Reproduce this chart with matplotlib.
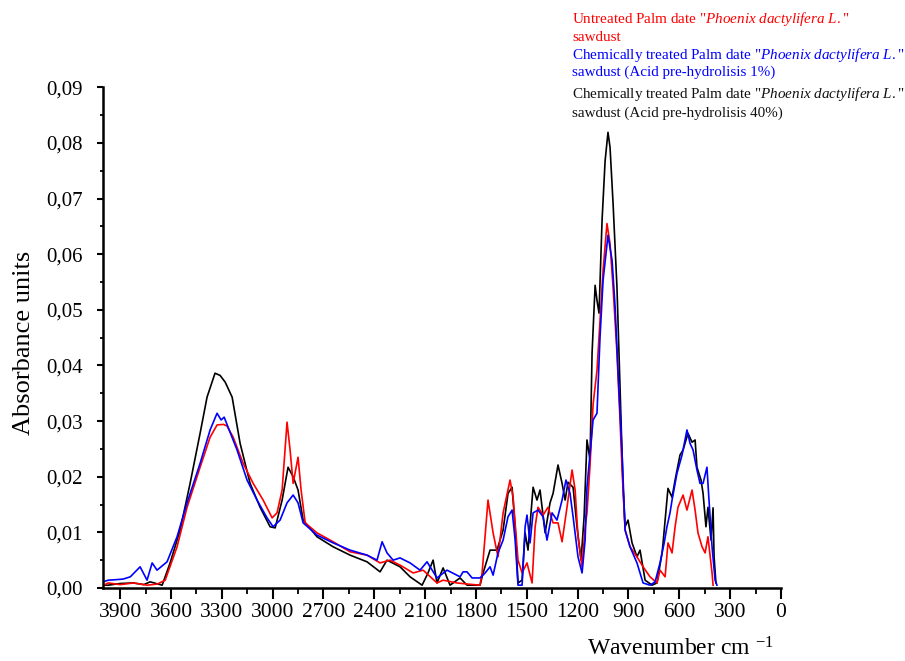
import numpy as np
import matplotlib
matplotlib.use('Agg')
import matplotlib.pyplot as plt
from matplotlib.ticker import MultipleLocator, FuncFormatter

plt.rcParams['font.family'] = ['Liberation Serif', 'DejaVu Serif']
plt.rcParams['mathtext.fontset'] = 'custom'
plt.rcParams['mathtext.rm'] = 'Liberation Serif'
plt.rcParams['mathtext.it'] = 'Liberation Serif:italic'

# (wavenumber, absorbance)
untreated = np.array([
    (3990, 0.0006), (3970, 0.0009), (3900, 0.0006), (3820, 0.0009), (3740, 0.0005),
    (3680, 0.0007), (3634, 0.0014), (3564, 0.0074), (3505, 0.0145), (3428, 0.0217),
    (3369, 0.0271), (3328, 0.0293), (3290, 0.0294), (3269, 0.0291), (3233, 0.0271),
    (3174, 0.0224), (3115, 0.0188), (3056, 0.0158), (3003, 0.0126), (2974, 0.0135),
    (2944, 0.0176), (2915, 0.0298), (2897, 0.0248), (2879, 0.0188), (2850, 0.0235),
    (2832, 0.0176), (2808, 0.0117), (2738, 0.0099), (2643, 0.0083), (2543, 0.0065),
    (2443, 0.0059), (2366, 0.0045), (2307, 0.0050), (2248, 0.0041), (2171, 0.0027),
    (2112, 0.0032), (2030, 0.0009), (1994, 0.0014), (1912, 0.0009), (1850, 0.0007),
    (1776, 0.0005), (1764, 0.0027), (1729, 0.0158), (1699, 0.0099), (1670, 0.0056),
    (1640, 0.0135), (1599, 0.0194), (1581, 0.0163), (1552, 0.0050), (1528, 0.0027),
    (1499, 0.0045), (1469, 0.0009), (1451, 0.0110), (1434, 0.0145), (1404, 0.0131),
    (1375, 0.0145), (1345, 0.0117), (1316, 0.0117), (1292, 0.0083), (1263, 0.0145),
    (1233, 0.0212), (1215, 0.0176), (1198, 0.0092), (1174, 0.0038), (1156, 0.0110),
    (1145, 0.0135), (1127, 0.0220), (1109, 0.0330), (1086, 0.0391), (1068, 0.0481),
    (1050, 0.0571), (1027, 0.0655), (1009, 0.0619), (991, 0.0540), (968, 0.0422),
    (950, 0.0302), (938, 0.0212), (920, 0.0104), (891, 0.0074), (850, 0.0056),
    (814, 0.0038), (773, 0.0020), (732, 0.0009), (714, 0.0032), (684, 0.0020),
    (667, 0.0081), (643, 0.0063), (625, 0.0110), (608, 0.0145), (578, 0.0167),
    (555, 0.0140), (525, 0.0176), (507, 0.0140), (490, 0.0099), (466, 0.0074),
    (448, 0.0063), (431, 0.0092), (407, 0.0027), (401, 0.0005),
])

acid_1 = np.array([
    (3990, 0.0012), (3970, 0.0014), (3920, 0.0015), (3882, 0.0016), (3840, 0.0020),
    (3782, 0.0038), (3741, 0.0014), (3711, 0.0045), (3682, 0.0032), (3623, 0.0047),
    (3564, 0.0092), (3505, 0.0153), (3428, 0.0224), (3369, 0.0284), (3328, 0.0314),
    (3304, 0.0302), (3286, 0.0307), (3263, 0.0289), (3210, 0.0248), (3151, 0.0194),
    (3092, 0.0158), (3033, 0.0126), (2997, 0.0110), (2956, 0.0122), (2915, 0.0153),
    (2879, 0.0167), (2850, 0.0153), (2820, 0.0117), (2738, 0.0095), (2643, 0.0081),
    (2543, 0.0068), (2443, 0.0059), (2384, 0.0050), (2354, 0.0083), (2325, 0.0063),
    (2289, 0.0050), (2248, 0.0054), (2189, 0.0045), (2130, 0.0032), (2089, 0.0047),
    (2030, 0.0018), (1971, 0.0032), (1894, 0.0020), (1876, 0.0029), (1853, 0.0029),
    (1823, 0.0018), (1776, 0.0018), (1746, 0.0027), (1717, 0.0038), (1699, 0.0023),
    (1670, 0.0063), (1640, 0.0086), (1611, 0.0128), (1587, 0.0140), (1569, 0.0086),
    (1552, 0.0005), (1528, 0.0005), (1510, 0.0110), (1499, 0.0131), (1481, 0.0081),
    (1463, 0.0135), (1434, 0.0140), (1404, 0.0128), (1381, 0.0086), (1351, 0.0135),
    (1322, 0.0122), (1292, 0.0158), (1269, 0.0194), (1245, 0.0170), (1227, 0.0128),
    (1198, 0.0056), (1174, 0.0027), (1156, 0.0086), (1145, 0.0181), (1109, 0.0302),
    (1086, 0.0314), (1068, 0.0451), (1050, 0.0553), (1021, 0.0634), (997, 0.0589),
    (979, 0.0505), (962, 0.0391), (938, 0.0242), (920, 0.0104), (891, 0.0074),
    (850, 0.0045), (814, 0.0009), (773, 0.0005), (743, 0.0011), (714, 0.0045),
    (690, 0.0080), (673, 0.0110), (655, 0.0135), (643, 0.0158), (614, 0.0206),
    (584, 0.0239), (555, 0.0284), (537, 0.0260), (519, 0.0248), (496, 0.0212),
    (478, 0.0188), (460, 0.0188), (437, 0.0217), (425, 0.0158), (407, 0.0074),
    (389, 0.0014), (378, 0.0005),
])

acid_40 = np.array([
    (3990, 0.0005), (3970, 0.0005), (3900, 0.0008), (3823, 0.0009), (3760, 0.0006),
    (3723, 0.0011), (3652, 0.0005), (3605, 0.0045), (3546, 0.0104), (3487, 0.0188),
    (3428, 0.0278), (3387, 0.0343), (3340, 0.0386), (3310, 0.0382), (3280, 0.0370),
    (3239, 0.0343), (3192, 0.0260), (3133, 0.0188), (3074, 0.0145), (3015, 0.0110),
    (2985, 0.0108), (2944, 0.0158), (2909, 0.0217), (2879, 0.0200), (2850, 0.0176),
    (2820, 0.0122), (2738, 0.0092), (2643, 0.0074), (2543, 0.0059), (2443, 0.0047),
    (2366, 0.0029), (2325, 0.0050), (2248, 0.0038), (2189, 0.0020), (2118, 0.0005),
    (2083, 0.0027), (2053, 0.0050), (2030, 0.0009), (1994, 0.0036), (1953, 0.0005),
    (1894, 0.0018), (1853, 0.0005), (1776, 0.0005), (1758, 0.0027), (1717, 0.0068),
    (1676, 0.0068), (1640, 0.0104), (1611, 0.0170), (1587, 0.0181), (1569, 0.0110),
    (1552, 0.0009), (1528, 0.0014), (1510, 0.0099), (1493, 0.0068), (1463, 0.0181),
    (1440, 0.0158), (1422, 0.0176), (1392, 0.0099), (1363, 0.0153), (1345, 0.0170),
    (1316, 0.0221), (1292, 0.0188), (1274, 0.0158), (1257, 0.0190), (1227, 0.0181),
    (1204, 0.0110), (1180, 0.0050), (1162, 0.0128), (1145, 0.0266), (1127, 0.0230),
    (1115, 0.0422), (1097, 0.0544), (1086, 0.0517), (1074, 0.0494), (1056, 0.0661),
    (1038, 0.0768), (1021, 0.0819), (1009, 0.0792), (991, 0.0691), (968, 0.0540),
    (950, 0.0361), (932, 0.0181), (920, 0.0110), (903, 0.0122), (879, 0.0081),
    (850, 0.0056), (832, 0.0068), (802, 0.0014), (761, 0.0005), (732, 0.0009),
    (702, 0.0063), (696, 0.0081), (667, 0.0179), (643, 0.0163), (625, 0.0194),
    (596, 0.0239), (578, 0.0248), (549, 0.0278), (525, 0.0262), (507, 0.0266),
    (496, 0.0217), (472, 0.0194), (460, 0.0170), (443, 0.0110), (431, 0.0145),
    (413, 0.0086), (401, 0.0144), (395, 0.0056), (384, 0.0009),
])

x_ticks = [3900, 3600, 3300, 3000, 2700, 2400, 2100, 1800, 1500, 1200, 900, 600, 300, 0]

fig = plt.figure(figsize=(9.05, 6.61), dpi=100)
ax = fig.add_axes([0.114, 0.1105, 0.749, 0.7575])

ax.plot(acid_40[:, 0], acid_40[:, 1], color='black', lw=1.2)
ax.plot(untreated[:, 0], untreated[:, 1], color='red', lw=1.2)
ax.plot(acid_1[:, 0], acid_1[:, 1], color='blue', lw=1.2)

ax.set_xlim(4000, 0)
ax.set_ylim(0, 0.09)
ax.set_xticks(x_ticks)
ax.xaxis.set_minor_locator(MultipleLocator(150))
ax.yaxis.set_major_locator(MultipleLocator(0.01))
ax.yaxis.set_minor_locator(MultipleLocator(0.005))
ax.yaxis.set_major_formatter(FuncFormatter(lambda v, p: f'{v:.2f}'.replace('.', ',')))

for s in ['top', 'right']:
    ax.spines[s].set_visible(False)
for s in ['left', 'bottom']:
    ax.spines[s].set_linewidth(1.8)

ax.tick_params(axis='x', which='major', length=8, width=1.5, labelsize=15.5, pad=3)
ax.tick_params(axis='x', which='minor', length=4, width=1.3)
ax.tick_params(axis='y', which='major', length=4.5, width=1.5, labelsize=15, pad=10)
ax.tick_params(axis='y', which='minor', length=2.5, width=1.3)

ax.set_ylabel('Absorbance units', fontsize=19)
ax.yaxis.set_label_coords(-0.101, 0.49)
ax.set_xlabel('Wavenumber cm $^{-1}$', fontsize=17)
ax.xaxis.set_label_coords(0.852, -0.098)

legend_lines = [
    (r'Untreated Palm date "$\mathit{Phoenix\ dactylifera\ L.}$"', 'red', 0.972),
    ('sawdust', 'red', 0.944),
    (r'Chemically treated Palm date "$\mathit{Phoenix\ dactylifera\ L.}$"', 'blue', 0.917),
    ('sawdust (Acid pre-hydrolisis 1%)', 'blue', 0.890),
    (r'Chemically treated Palm date "$\mathit{Phoenix\ dactylifera\ L.}$"', '#111111', 0.858),
    ('sawdust (Acid pre-hydrolisis 40%)', '#111111', 0.829),
]
for txt, col, y in legend_lines:
    fig.text(0.632, y, txt, color=col, fontsize=10.9, va='center', ha='left')

fig.savefig('out.png', dpi=100)
